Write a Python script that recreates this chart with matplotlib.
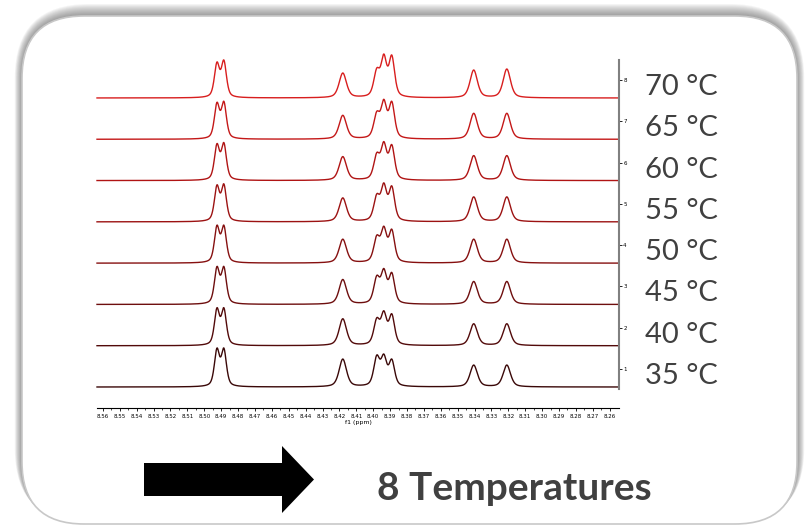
import numpy as np
import matplotlib.pyplot as plt
import matplotlib.transforms as mtransforms
from matplotlib.patches import FancyBboxPatch, FancyArrow

# temperatures, bottom trace first
temps = ["35 °C", "40 °C", "45 °C", "50 °C", "55 °C", "60 °C", "65 °C", "70 °C"]
trace_no = [1, 2, 3, 4, 5, 6, 7, 8]

# peak positions (ppm) and half widths
peak_ppm = [8.4925, 8.4884, 8.4180, 8.3979, 8.3937, 8.3890, 8.3405, 8.3209]
peak_hwhm = [0.0018, 0.0018, 0.0026, 0.0021, 0.0020, 0.0020, 0.0026, 0.0026]

# visible peak heights (pixels), 35 °C ... 70 °C
h_d1 = [39, 38, 38, 38, 37, 37, 37, 36]
h_d2 = [39, 38, 38, 38, 38, 38, 38, 38]
h_418 = [28, 27, 25, 24, 24, 24, 24, 25]
h_m1 = [32, 28, 29, 28, 28, 28, 28, 30]
h_m2 = [33, 35, 36, 37, 39, 39, 40, 44]
h_m3 = [28, 32, 32, 34, 36, 36, 38, 43]
h_340 = [22, 22, 23, 24, 25, 25, 26, 28]
h_321 = [22, 22, 23, 24, 25, 25, 26, 29]

trace_colors = ["#3a0808", "#520a0a", "#6e0e0e", "#861010", "#9c1212",
                "#b01414", "#c41818", "#d81e1e"]

px_per_unit = 41.3
base_shift = 18 / px_per_unit


def line_shape(d, g):
    # pseudo-Voigt, half Lorentzian half Gaussian
    r = (d / g) ** 2
    return 0.5 / (1 + r) + 0.5 * np.exp(-np.log(2) * r)


fig = plt.figure(figsize=(8.08, 5.30), dpi=100)

# background frame with shadow
bg = fig.add_axes([0, 0, 1, 1])
bg.set_xlim(0, 808)
bg.set_ylim(530, 0)
bg.axis("off")
for k in range(12, 0, -1):
    bg.add_patch(FancyBboxPatch((22 - k * 0.6, 16 - k * 1.0), 775 + k * 1.2, 508 + k * 0.9,
                                boxstyle="round,pad=0,rounding_size=%d" % (62 + k),
                                fc="#505050", ec="none", alpha=0.06))
bg.add_patch(FancyBboxPatch((22, 16), 775, 508, boxstyle="round,pad=0,rounding_size=62",
                            fc="white", ec="#c8c8c8", lw=1.2))
bg.add_patch(FancyArrow(144, 479.5, 170, 0, width=33, head_width=67, head_length=32,
                        length_includes_head=True, fc="black", ec="none"))
bg.text(377, 489, "8 Temperatures", fontsize=28, fontweight="bold", family="Lato",
        color="#404040", ha="left", va="center")

# spectra
ax = fig.add_axes([97 / 808, 1 - 408 / 530, 522 / 808, 348 / 530])
ax.patch.set_alpha(0)
x = np.linspace(8.5635, 8.2545, 3000)
pos = np.array(peak_ppm)
gam = np.array(peak_hwhm)
M = line_shape(pos[:, None] - pos[None, :], gam[None, :])
heights = np.array([h_d1, h_d2, h_418, h_m1, h_m2, h_m3, h_340, h_321]).T / px_per_unit
lab_tr = mtransforms.blended_transform_factory(bg.transData, ax.transData)

for i, n in enumerate(trace_no):
    amp = np.linalg.solve(M, heights[i])
    y = (amp[None, :] * line_shape(x[:, None] - pos[None, :], gam[None, :])).sum(axis=1)
    ax.plot(x, y + n - base_shift, color=trace_colors[i], lw=1.0, clip_on=False)
    ax.text(645, n - 0.17, temps[i], transform=lab_tr, fontsize=21,
            family="Lato", color="#404040", va="center", ha="left")

ax.set_xlim(8.5635, 8.2545)
ax.set_ylim(0.056, 8.484)
ax.spines["top"].set_visible(False)
ax.spines["left"].set_visible(False)
ax.spines["right"].set_bounds(0.516, 8.484)
ax.spines["right"].set_color("#808080")
ax.spines["right"].set_linewidth(1.5)
ax.spines["bottom"].set_linewidth(0.8)
ax.yaxis.tick_right()
ax.set_yticks(trace_no)
ax.tick_params(axis="y", length=2, width=0.6, labelsize=4, pad=1)
xt = np.round(np.arange(8.56, 8.255, -0.01), 2)
ax.set_xticks(xt)
ax.set_xticks(np.arange(8.555, 8.255, -0.01), minor=True)
ax.set_xticklabels(["%.2f" % v for v in xt])
ax.tick_params(axis="x", which="major", length=2.5, width=0.6, labelsize=4, pad=1.5)
ax.tick_params(axis="x", which="minor", length=1.5, width=0.5)
ax.set_xlabel("f1 (ppm)", fontsize=4.5, labelpad=1)

plt.savefig("out.png", dpi=100)
